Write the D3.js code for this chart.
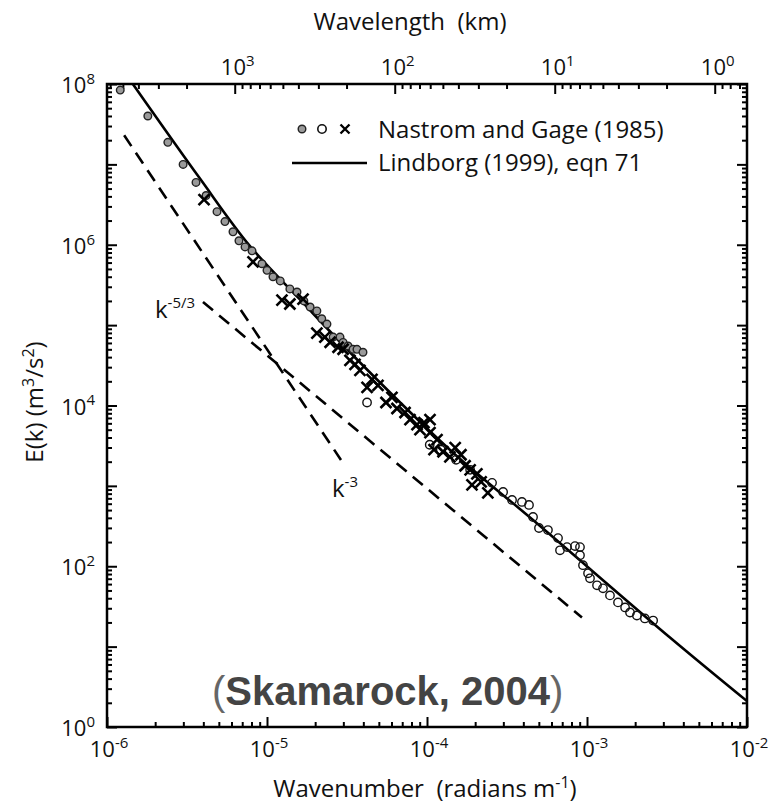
<!DOCTYPE html>
<html><head><meta charset="utf-8">
<script src="https://cdn.jsdelivr.net/npm/d3@7"></script>
<style>
body{margin:0;background:#fff}
text{font-family:"Open Sans",sans-serif;fill:#111;white-space:pre}
</style>
</head><body>
<svg id="c" width="769" height="807"></svg>
<script>
// ---- data ----
// Nastrom & Gage (1985) gray filled circles
const grayK = [1.21e-6,1.80e-6,2.40e-6,2.99e-6,3.60e-6,4.16e-6,4.87e-6,5.46e-6,6.13e-6,6.68e-6,7.29e-6,8.06e-6,9.30e-6,1.0e-5,1.09e-5,1.21e-5,1.39e-5,1.54e-5,1.70e-5,1.86e-5,2.05e-5,2.2e-5,2.37e-5,2.59e-5,2.86e-5,2.99e-5,3.21e-5,3.45e-5,3.65e-5,3.98e-5];
const grayE = [8.4e7,4.0e7,1.88e7,1.0e7,5.96e6,4.1e6,2.58e6,1.94e6,1.45e6,1.12e6,9.4e5,8.4e5,5.8e5,4.8e5,4.0e5,3.55e5,2.82e5,2.58e5,2.0e5,1.68e5,1.5e5,1.2e5,1.03e5,7.1e4,7.1e4,6.1e4,5.5e4,5.0e4,5.0e4,4.6e4];
// open circles
const openK = [4.22e-5,1.04e-4,1.22e-4,1.52e-4,1.86e-4,2.55e-4,2.99e-4,3.40e-4,3.92e-4,4.34e-4,4.60e-4,5.01e-4,5.70e-4,6.59e-4,6.78e-4,7.50e-4,8.41e-4,9.04e-4,9.04e-4,9.44e-4,1.015e-3,1.044e-3,1.155e-3,1.259e-3,1.392e-3,1.562e-3,1.73e-3,1.857e-3,2.05e-3,2.30e-3,2.59e-3];
const openE = [1.09e4,3250,2820,2110,1585,1090,841,668,631,579,410,299,282,224,158,173,178,173,137,103,81.8,70.8,57.9,53.1,43.4,35.5,30.7,26.6,24.4,22.4,21.1];
// crosses
const crossK = [4.04e-6,8.18e-6,1.24e-5,1.39e-5,1.68e-5,2.05e-5,2.30e-5,2.48e-5,2.78e-5,2.99e-5,3.30e-5,3.55e-5,3.81e-5,4.22e-5,4.53e-5,4.94e-5,5.54e-5,6.04e-5,6.49e-5,7.29e-5,7.83e-5,8.66e-5,9.04e-5,9.57e-5,1.044e-4,1.044e-4,1.155e-4,1.106e-4,1.259e-4,1.39e-4,1.50e-4,1.63e-4,1.73e-4,1.86e-4,1.91e-4,2.05e-4,2.18e-4,2.40e-4];
const crossE = [3.65e6,6.13e5,2.05e5,1.83e5,2.11e5,7.94e4,7.08e4,6.13e4,5.31e4,5.01e4,3.65e4,3.25e4,2.74e4,1.68e4,2.11e4,1.78e4,1.09e4,1.26e4,9170,8180,6680,5790,5010,6130,4600,6680,3760,2820,2660,2300,2985,2440,1780,1585,1030,1410,1120,818];
// Lindborg (1999) eqn 71 curve
const lindK = [1.45e-6,3.8e-6,7.8e-6,1.6e-5,3.8e-5,1.45e-4,4.6e-4,3.3e-3,1e-2];
const lindE = [1e8,6.7e6,9.7e5,2.1e5,3.45e4,2.6e3,376,13,2.1];
// reference slopes
const k3K = [1.28e-6,2.9e-5], k3E = [2.3e7,2.1e3];
const k53K = [3.98e-6,9.3e-4], k53E = [1.94e5,23];
// ticks
const bottomTicks = [1e-6,1e-5,1e-4,1e-3,1e-2];
const bottomSup = ["-6","-5","-4","-3","-2"];
const leftTicks = [1,1e2,1e4,1e6,1e8];
const leftSup = ["0","2","4","6","8"];
const topTicks = [1000,100,10,1];
const topSup = ["3","2","1","0"];

// ---- chart ----
const svg = d3.select("#c");
const L=107,R=747,T=84,B=727;
const x = d3.scaleLog().domain([1e-6,1e-2]).range([L,R]);
const y = d3.scaleLog().domain([1,1e8]).range([B,T]);
const lam = k => 2*Math.PI/k/1000; // km
const xTop = d3.scaleLog().domain([lam(1e-6),lam(1e-2)]).range([L,R]);

function minors(d0,d1,lo,hi){const a=[];for(let d=d0;d<=d1;d++)for(let m=2;m<=9;m++){const v=m*Math.pow(10,d);if(v>=lo&&v<=hi)a.push(v);}return a;}
function decades(d0,d1){const a=[];for(let d=d0;d<=d1;d++)a.push(Math.pow(10,d));return a;}

function axis(gen, vals, size, tr){
  svg.append("g").attr("transform",tr)
    .call(gen.tickValues(vals).tickSize(size).tickFormat(""))
    .call(g=>g.select(".domain").remove())
    .selectAll("line").attr("stroke","#000").attr("stroke-width",2);
}
const MJ=-10, MN=-5;
axis(d3.axisBottom(x), bottomTicks, MJ, `translate(0,${B})`);
axis(d3.axisBottom(x), minors(-6,-3,1e-6,1e-2), MN, `translate(0,${B})`);
axis(d3.axisLeft(y), decades(0,8), MJ, `translate(${L},0)`);
axis(d3.axisLeft(y), minors(0,7,1,1e8), MN, `translate(${L},0)`);
axis(d3.axisRight(y), decades(0,8), MJ, `translate(${R},0)`);
axis(d3.axisRight(y), minors(0,7,1,1e8), MN, `translate(${R},0)`);
axis(d3.axisTop(xTop), topTicks, MJ, `translate(0,${T})`);
axis(d3.axisTop(xTop), minors(-1,3,lam(1e-2),lam(1e-6)), MN, `translate(0,${T})`);

svg.append("rect").attr("x",L).attr("y",T).attr("width",R-L).attr("height",B-T)
  .attr("fill","none").attr("stroke","#000").attr("stroke-width",2.5);

function sup(px,py,base,s,anchor,fs,sfs){
  const t=svg.append("text").attr("x",px).attr("y",py).attr("text-anchor",anchor).style("font-size",fs+"px");
  t.append("tspan").text(base);
  t.append("tspan").attr("dy",-fs*0.42).style("font-size",sfs+"px").text(s);
  return t;
}
bottomTicks.forEach((v,i)=>sup(x(v)+2,757,"10",bottomSup[i],"middle",22,15));
leftTicks.forEach((v,i)=>sup(95,y(v)+9,"10",leftSup[i],"end",22,15));
topTicks.forEach((v,i)=>sup(xTop(v)+3,75,"10",topSup[i],"middle",22,15));

// titles
svg.append("text").attr("x",410).attr("y",30).attr("text-anchor","middle").style("font-size","24px").text("Wavelength  (km)");
{
  const t=svg.append("text").attr("x",425).attr("y",797).attr("text-anchor","middle").style("font-size","24px");
  t.append("tspan").text("Wavenumber  (radians m");
  t.append("tspan").attr("dy",-9).style("font-size","16px").text("-1");
  t.append("tspan").attr("dy",9).text(")");
}
{
  const t=svg.append("text").attr("transform","translate(43,402) rotate(-90)").attr("text-anchor","middle").style("font-size","24px");
  t.append("tspan").text("E(k) (m");
  t.append("tspan").attr("dy",-9).style("font-size","16px").text("3");
  t.append("tspan").attr("dy",9).text("/s");
  t.append("tspan").attr("dy",-9).style("font-size","16px").text("2");
  t.append("tspan").attr("dy",9).text(")");
}

// plot content clipped
svg.append("clipPath").attr("id","clip").append("rect").attr("x",L).attr("y",T).attr("width",R-L).attr("height",B-T);
const plot = svg.append("g").attr("clip-path","url(#clip)");

const line = d3.line().x(d=>x(d[0])).y(d=>y(d[1]));
plot.append("path").datum(k3K.map((k,i)=>[k,k3E[i]])).attr("d",line)
  .attr("fill","none").attr("stroke","#000").attr("stroke-width",2.6).attr("stroke-dasharray","13,8");
plot.append("path").datum(k53K.map((k,i)=>[k,k53E[i]])).attr("d",line)
  .attr("fill","none").attr("stroke","#000").attr("stroke-width",2.6).attr("stroke-dasharray","13,8");

plot.append("path").datum(lindK.map((k,i)=>[k,lindE[i]]))
  .attr("d",line.curve(d3.curveCatmullRom.alpha(0.5)))
  .attr("fill","none").attr("stroke","#000").attr("stroke-width",2.6);

plot.selectAll(".g").data(grayK.map((k,i)=>[k,grayE[i]])).join("circle")
  .attr("cx",d=>x(d[0])).attr("cy",d=>y(d[1])).attr("r",3.8)
  .attr("fill","#9a9a9a").attr("stroke","#222").attr("stroke-width",1.4);
plot.selectAll(".o").data(openK.map((k,i)=>[k,openE[i]])).join("circle")
  .attr("cx",d=>x(d[0])).attr("cy",d=>y(d[1])).attr("r",4.2)
  .attr("fill","none").attr("stroke","#111").attr("stroke-width",1.4);
const cs=5.5;
plot.selectAll(".x").data(crossK.map((k,i)=>[k,crossE[i]])).join("path")
  .attr("d",d=>{const cx=x(d[0]),cy=y(d[1]);return `M${cx-cs},${cy-cs}L${cx+cs},${cy+cs}M${cx-cs},${cy+cs}L${cx+cs},${cy-cs}`;})
  .attr("stroke","#000").attr("stroke-width",2.6).attr("fill","none");

// slope labels
sup(155,318,"k","-5/3","start",24,15);
sup(332,497,"k","-3","start",24,15);

// legend
const lg=svg.append("g");
lg.append("circle").attr("cx",302).attr("cy",129).attr("r",3.8).attr("fill","#9a9a9a").attr("stroke","#222").attr("stroke-width",1.4);
lg.append("circle").attr("cx",322).attr("cy",129).attr("r",4.2).attr("fill","none").attr("stroke","#111").attr("stroke-width",1.6);
lg.append("path").attr("d",`M${345-4.5},${129-4.5}L${345+4.5},${129+4.5}M${345-4.5},${129+4.5}L${345+4.5},${129-4.5}`).attr("stroke","#000").attr("stroke-width",2.4);
lg.append("text").attr("x",378).attr("y",138).style("font-size","24px").text("Nastrom and Gage (1985)");
lg.append("line").attr("x1",292).attr("x2",367).attr("y1",163).attr("y2",163).attr("stroke","#000").attr("stroke-width",2.6);
lg.append("text").attr("x",378).attr("y",171).style("font-size","24px").text("Lindborg (1999), eqn 71");

// credit
{
  const t=svg.append("text").attr("x",212).attr("y",705).style("font-family","'Liberation Sans',Arial,sans-serif").style("font-size","40px");
  t.append("tspan").style("fill","#666").text("(");
  t.append("tspan").style("font-weight","bold").style("fill","#444").text("Skamarock, 2004");
  t.append("tspan").style("fill","#666").text(")");
}
</script>
</body></html>
